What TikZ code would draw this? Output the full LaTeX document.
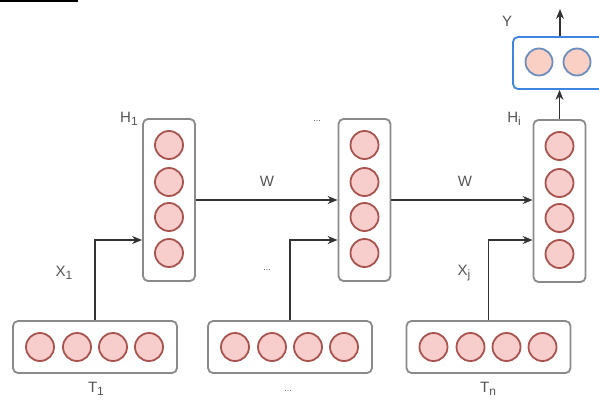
\documentclass[tikz,border=0pt]{standalone}
\usepackage{fontspec}
\setmainfont{Liberation Sans}
\usepackage{tikz}
\usetikzlibrary{arrows.meta,positioning}
\definecolor{cellfill}{HTML}{F8CECC}
\definecolor{cellline}{HTML}{A9534F}
\definecolor{boxline}{HTML}{8A8A8A}
\definecolor{outline}{HTML}{3C86E0}
\definecolor{outcell}{HTML}{6C8EBF}
\definecolor{outfill}{HTML}{FAD0C4}
\definecolor{labelgray}{HTML}{555555}

\newcommand{\lsub}[1]{\raisebox{-3.5pt}{\fontsize{12}{12}\selectfont #1}}

\tikzset{
  layerbox/.style={draw=boxline,line width=1.8pt,rounded corners=5pt,fill=white,minimum width=#1},
  hidbox/.style={layerbox=52pt,minimum height=162pt},
  tokbox/.style={layerbox=164pt,minimum height=52pt},
  cell/.style={circle,draw=cellline,fill=cellfill,line width=1.8pt,minimum size=28pt,inner sep=0pt},
  outcellst/.style={circle,draw=outcell,fill=outfill,line width=1.8pt,minimum size=27pt,inner sep=0pt},
  conn/.style={-{Stealth[length=10pt,width=8pt]},draw=black!80,line width=1.3pt},
  lbl/.style={text=labelgray,font=\fontsize{15}{17}\selectfont},
  dots/.style={text=labelgray,font=\fontsize{9}{10}\selectfont}
}

\begin{document}
\begin{tikzpicture}[x=1pt,y=-1pt,>=Stealth]
    \useasboundingbox (0,0) rectangle (599,401);
    % stray rule at the top
    \draw[line width=2pt] (0,1.5) -- (78,1.5);
    % hidden layers
    \node[hidbox] (h1) at (169,200) {};
    \node[hidbox] (h2) at (364.5,200) {};
    \node[hidbox] (hi) at (559.5,201) {};
    \foreach \b in {h1,h2,hi}
      \foreach \k/\dy in {1/-55,2/-18,3/17,4/53}
        \node[cell] (\b-\k) at ([yshift=-\dy pt]\b.center) {};
    % token layers
    \node[tokbox] (t1) at (95,347) {};
    \node[tokbox] (t2) at (290,347) {};
    \node[tokbox] (tn) at (488.5,347) {};
    \foreach \b in {t1,t2,tn}
      \foreach \k/\dx in {1/-55,2/-18,3/18,4/54}
        \node[cell] (\b-\k) at ([xshift=\dx pt]\b.center) {};
    % output layer
    \node[draw=outline,line width=1.8pt,rounded corners=5pt,fill=white,
          minimum width=92pt,minimum height=52pt] (y) at (559,63) {};
    \node[outcellst] (y-1) at (539,62) {};
    \node[outcellst] (y-2) at (577,62) {};
    \coordinate (yout) at (560,9);
    % recurrent arrows
    \draw[conn] (h1.east) -- (h2.west);
    \draw[conn] (h2.east) -- (h2.east -| hi.west);
    % input arrows
    \draw[conn] (t1.north) |- ([yshift=-40pt]h1.west);
    \draw[conn] (t2.north) |- ([yshift=-40pt]h2.west);
    \draw[conn] (tn.north) |- ([yshift=-40pt]h2.west -| hi.west);
    % output arrows
    \draw[conn] (hi.north) -- (y.south -| hi.north);
    \draw[conn] (y.north -| yout) -- (yout);
    % labels
    \node[lbl] (lh1) at (129,119) {H\lsub{1}};
    \node[dots] (lh2) at (317,121) {...};
    \node[lbl] (lhi) at (514,119) {H\lsub{i}};
    \node[lbl] (lw1) at (267,181) {W};
    \node[lbl] (lw2) at (465,181) {W};
    \node[lbl] (lx1) at (64,273) {X\lsub{1}};
    \node[dots] (lx2) at (267,270) {...};
    \node[lbl] (lxj) at (464,273) {X\lsub{j}};
    \node[lbl] (lt1) at (96,389) {T\lsub{1}};
    \node[dots] (lt2) at (288,391) {...};
    \node[lbl] (ltn) at (488,389) {T\lsub{n}};
    \node[lbl] (ly) at (507,21) {Y};
\end{tikzpicture}
\end{document}
